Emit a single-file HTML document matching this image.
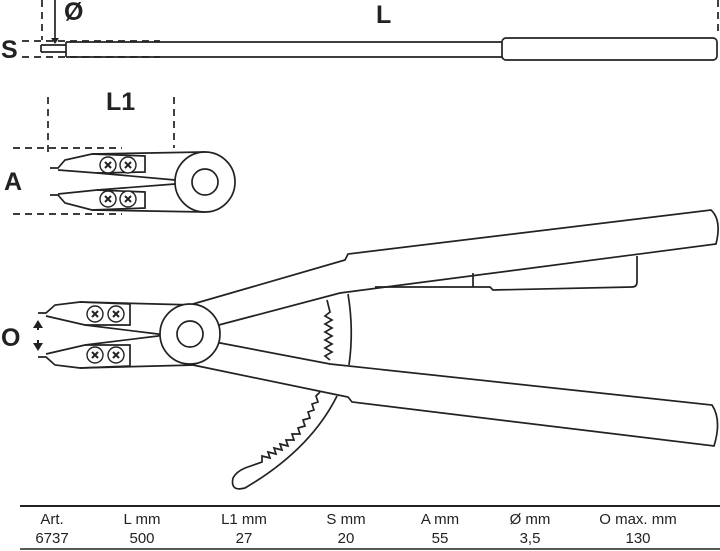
<!DOCTYPE html>
<html><head><meta charset="utf-8"><style>
html,body{margin:0;padding:0;background:#fff;}
svg{display:block}
text{font-family:"Liberation Sans",sans-serif;fill:#222}
</style></head><body>
<svg width="720" height="551" viewBox="0 0 720 551" xmlns="http://www.w3.org/2000/svg">
<defs>
<g id="scr"><circle r="8" fill="#fff" stroke="#222" stroke-width="1.4"/><path d="M-3,-3 L3,3 M3,-3 L-3,3" stroke="#222" stroke-width="2"/></g>
</defs>
<g fill="none" stroke="#222" stroke-width="1.7">
<path d="M42,0 V40" stroke-dasharray="7,5"/>
<path d="M718,0 V36" stroke-dasharray="7,5"/>
<path d="M22,41 H160 M22,57 H160" stroke-dasharray="7,5"/>
<path d="M55,0 V40"/>
<path d="M41,45 H66 M41,52 H66 M41,45 V52"/>
<path d="M66,42 H502 M66,57 H502 M66,42 V57"/>
<rect x="502" y="38" width="215" height="22" rx="4" fill="#fff"/>
<path d="M48,97 V155 M174,97 V148" stroke-dasharray="7,5"/>
<path d="M13,148 H122 M13,214 H122" stroke-dasharray="7,5"/>
<path d="M50,168 H58 L65,160 L92,154 L205,152"/>
<path d="M58,170 L97,173 L175,180 L180,182"/>
<path d="M92,154 L145,156 L145,172 L97,173"/>
<path d="M50,195 H58 L65,203 L92,210 L205,212"/>
<path d="M58,194 L97,190 L175,184 L180,182"/>
<path d="M92,210 L145,208 L145,192 L97,190"/>
<circle cx="205" cy="182" r="30" fill="#fff"/>
<circle cx="205" cy="182" r="13"/>
<path d="M193,304 L345,260 L348,254 L711,210 Q722,220 716,244 L340,293 L215,326"/>
<path d="M375,287 H473 V273 M473,287 H490 L493,290 L632,287 Q637,287 637,282 V256"/>
<path d="M215,342 L330,364 L712,405 Q722,420 714,446 L352,402 L348,397 L338,395 L193,365"/>
<path d="M348,294 Q354,330 349,365"/>
<path d="M327,300 L330,312 L325,316 L332,320 L325,324 L332,328 L325,332 L332,336 L325,340 L332,344 L325,348 L332,352 L325,356 L330,360"/>
<path d="M337,396 Q310,450 245,488 Q230,492 233,478 Q236,472 245,468 L262,462 L262,456 L270,458 L268,452 L276,454 L274,448 L282,450 L280,444 L288,446 L286,440 L294,440 L292,434 L300,434 L298,428 L305,426 L303,420 L310,418 L308,412 L314,410 L312,404 L318,402 L316,396 L320,392"/>
<path d="M38,313 H46 L55,305 L80,302 L195,305"/>
<path d="M46,316 L85,325 L158,334 L162,335"/>
<path d="M80,302 L130,304 L130,325 L85,325"/>
<path d="M38,357 H46 L55,365 L80,368 L195,365"/>
<path d="M46,354 L85,345 L158,336 L162,335"/>
<path d="M80,368 L130,366 L130,345 L85,345"/>
<circle cx="190" cy="334" r="30" fill="#fff"/>
<circle cx="190" cy="334" r="13"/>
<path d="M38,326 V330 M38,340 V344" stroke-width="2"/>
</g>
<path d="M33,328 L43,328 L38,320 Z M33,343 L43,343 L38,351 Z" fill="#222"/>
<path d="M51,38 L59,38 L55,44 Z" fill="#222"/>
<use href="#scr" x="108" y="165"/><use href="#scr" x="128" y="165"/>
<use href="#scr" x="108" y="199"/><use href="#scr" x="128" y="199"/>
<use href="#scr" x="95" y="314"/><use href="#scr" x="116" y="314"/>
<use href="#scr" x="95" y="355"/><use href="#scr" x="116" y="355"/>
<g font-weight="bold" font-size="25">
<text x="1" y="58">S</text>
<text x="64" y="20">Ø</text>
<text x="376" y="23">L</text>
<text x="106" y="110">L1</text>
<text x="4" y="190">A</text>
<text x="1" y="346">O</text>
</g>
<path d="M20,506 H720" stroke="#222" stroke-width="2"/>
<path d="M20,549 H720" stroke="#222" stroke-width="1.5"/>
<g font-size="15" text-anchor="middle">
<text x="52" y="524">Art.</text><text x="142" y="524">L  mm</text><text x="244" y="524">L1  mm</text>
<text x="346" y="524">S  mm</text><text x="440" y="524">A  mm</text><text x="530" y="524">Ø  mm</text>
<text x="638" y="524">O  max. mm</text>
<text x="52" y="543">6737</text><text x="142" y="543">500</text><text x="244" y="543">27</text>
<text x="346" y="543">20</text><text x="440" y="543">55</text><text x="530" y="543">3,5</text>
<text x="638" y="543">130</text>
</g>
</svg>
</body></html>
